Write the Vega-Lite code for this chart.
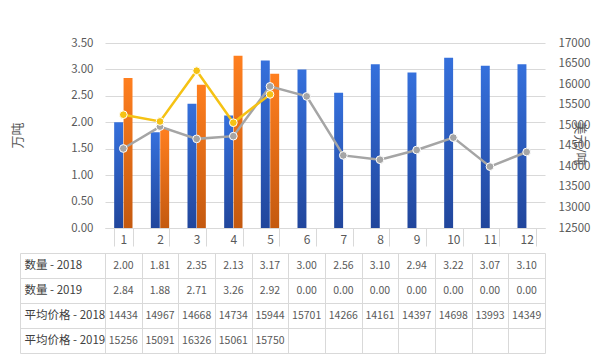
{
  "$schema": "https://vega.github.io/schema/vega-lite/v6.json",
  "background": "white",
  "padding": {"left": 11, "top": 37, "right": 5, "bottom": 5},
  "config": {
    "font": "Noto Sans CJK SC",
    "view": {"stroke": null},
    "axis": {"labelColor": "#595959", "titleColor": "#595959", "labelFontSize": 11.5, "gridColor": "#d9d9d9", "domainColor": "#d9d9d9", "tickColor": "#d9d9d9"}
  },
  "datasets": {
    "qty": [
      {"month": 1, "series": "2018", "qty": 2.00}, {"month": 2, "series": "2018", "qty": 1.81},
      {"month": 3, "series": "2018", "qty": 2.35}, {"month": 4, "series": "2018", "qty": 2.13},
      {"month": 5, "series": "2018", "qty": 3.17}, {"month": 6, "series": "2018", "qty": 3.00},
      {"month": 7, "series": "2018", "qty": 2.56}, {"month": 8, "series": "2018", "qty": 3.10},
      {"month": 9, "series": "2018", "qty": 2.94}, {"month": 10, "series": "2018", "qty": 3.22},
      {"month": 11, "series": "2018", "qty": 3.07}, {"month": 12, "series": "2018", "qty": 3.10},
      {"month": 1, "series": "2019", "qty": 2.84}, {"month": 2, "series": "2019", "qty": 1.88},
      {"month": 3, "series": "2019", "qty": 2.71}, {"month": 4, "series": "2019", "qty": 3.26},
      {"month": 5, "series": "2019", "qty": 2.92}, {"month": 6, "series": "2019", "qty": 0},
      {"month": 7, "series": "2019", "qty": 0}, {"month": 8, "series": "2019", "qty": 0},
      {"month": 9, "series": "2019", "qty": 0}, {"month": 10, "series": "2019", "qty": 0},
      {"month": 11, "series": "2019", "qty": 0}, {"month": 12, "series": "2019", "qty": 0}
    ],
    "price": [
      {"month": 1, "series": "2018", "price": 14434}, {"month": 2, "series": "2018", "price": 14967},
      {"month": 3, "series": "2018", "price": 14668}, {"month": 4, "series": "2018", "price": 14734},
      {"month": 5, "series": "2018", "price": 15944}, {"month": 6, "series": "2018", "price": 15701},
      {"month": 7, "series": "2018", "price": 14266}, {"month": 8, "series": "2018", "price": 14161},
      {"month": 9, "series": "2018", "price": 14397}, {"month": 10, "series": "2018", "price": 14698},
      {"month": 11, "series": "2018", "price": 13993}, {"month": 12, "series": "2018", "price": 14349},
      {"month": 1, "series": "2019", "price": 15256}, {"month": 2, "series": "2019", "price": 15091},
      {"month": 3, "series": "2019", "price": 16326}, {"month": 4, "series": "2019", "price": 15061},
      {"month": 5, "series": "2019", "price": 15750}
    ]
  },
  "spacing": 0,
  "vconcat": [
    {
      "width": 440,
      "height": 185,
      "layer": [
        {
          "data": {"name": "qty"},
          "transform": [{"filter": "datum.series === '2018'"}],
          "mark": {"type": "bar", "fill": {"gradient": "linear", "x1": 0, "y1": 0, "x2": 0, "y2": 1, "stops": [{"offset": 0, "color": "#3570dc"}, {"offset": 1, "color": "#21469c"}]}},
          "encoding": {
            "x": {"field": "month", "type": "ordinal", "scale": {"paddingInner": 0.5, "paddingOuter": 0.25},
              "axis": {"title": null, "labelAngle": 0, "domain": true, "ticks": true, "tickBand": "extent", "tickSize": 18, "labelPadding": -7, "labelBaseline": "middle", "labelFontSize": 12}},
            "xOffset": {"field": "series", "type": "nominal", "scale": {"domain": ["2018", "2019"], "paddingInner": 0.05}},
            "y": {"field": "qty", "type": "quantitative", "scale": {"domain": [0, 3.5]},
              "axis": {"orient": "left", "title": "万吨", "titleFontSize": 13, "titleFontWeight": "normal", "titleAngle": -90, "titleX": -81, "titleY": 92, "format": ".2f", "values": [0, 0.5, 1, 1.5, 2, 2.5, 3, 3.5], "ticks": false, "domain": false, "grid": true, "labelPadding": 12}}
          }
        },
        {
          "data": {"name": "qty"},
          "transform": [{"filter": "datum.series === '2019'"}],
          "mark": {"type": "bar", "fill": {"gradient": "linear", "x1": 0, "y1": 0, "x2": 0, "y2": 1, "stops": [{"offset": 0, "color": "#ff7f1f"}, {"offset": 1, "color": "#c4590f"}]}},
          "encoding": {
            "x": {"field": "month", "type": "ordinal"},
            "xOffset": {"field": "series", "type": "nominal"},
            "y": {"field": "qty", "type": "quantitative", "scale": {"domain": [0, 3.5]}, "axis": null}
          }
        },
        {
          "data": {"name": "price"},
          "mark": {"type": "line", "strokeWidth": 2.5, "point": {"filled": true, "size": 60, "stroke": "white", "strokeWidth": 1}},
          "encoding": {
            "x": {"field": "month", "type": "ordinal"},
            "y": {"field": "price", "type": "quantitative", "scale": {"domain": [12500, 17000], "zero": false},
              "axis": {"orient": "right", "title": "美元/吨", "titleFontSize": 13, "titleFontWeight": "normal", "titleX": 27, "titleY": 100, "values": [12500, 13000, 13500, 14000, 14500, 15000, 15500, 16000, 16500, 17000], "format": "d", "ticks": false, "domain": false, "grid": false, "labelPadding": 13}},
            "color": {"field": "series", "type": "nominal", "scale": {"domain": ["2018", "2019"], "range": ["#a5a5a5", "#f5c214"]}, "legend": null}
          }
        }
      ],
      "resolve": {"scale": {"y": "independent"}}
    },
    {
      "width": 440,
      "height": 100,
      "layer": [
        {
          "data": {"name": "qty"},
          "transform": [{"calculate": "'数量 - ' + datum.series", "as": "row"}],
          "mark": {"type": "text", "fontSize": 10.5, "color": "#595959"},
          "encoding": {
            "x": {"field": "month", "type": "ordinal", "scale": {"paddingInner": 0, "paddingOuter": 0},
              "axis": {"title": null, "labels": false, "ticks": false, "domain": false, "grid": true, "tickBand": "extent"}},
            "y": {"field": "row", "type": "nominal", "scale": {"domain": ["数量 - 2018", "数量 - 2019", "平均价格 - 2018", "平均价格 - 2019"], "paddingInner": 0, "paddingOuter": 0},
              "axis": {"title": null, "orient": "left", "offset": 85, "domain": true, "ticks": true, "tickBand": "extent", "tickSize": -525, "labelAlign": "left", "labelBaseline": "middle", "labelPadding": 521, "labelFontSize": 11.5, "labelColor": "#404040"}},
            "text": {"field": "qty", "type": "quantitative", "format": ".2f"}
          }
        },
        {
          "data": {"name": "price"},
          "transform": [{"calculate": "'平均价格 - ' + datum.series", "as": "row"}],
          "mark": {"type": "text", "fontSize": 10.5, "color": "#595959"},
          "encoding": {
            "x": {"field": "month", "type": "ordinal"},
            "y": {"field": "row", "type": "nominal"},
            "text": {"field": "price", "type": "quantitative", "format": "d"}
          }
        }
      ]
    }
  ]
}
